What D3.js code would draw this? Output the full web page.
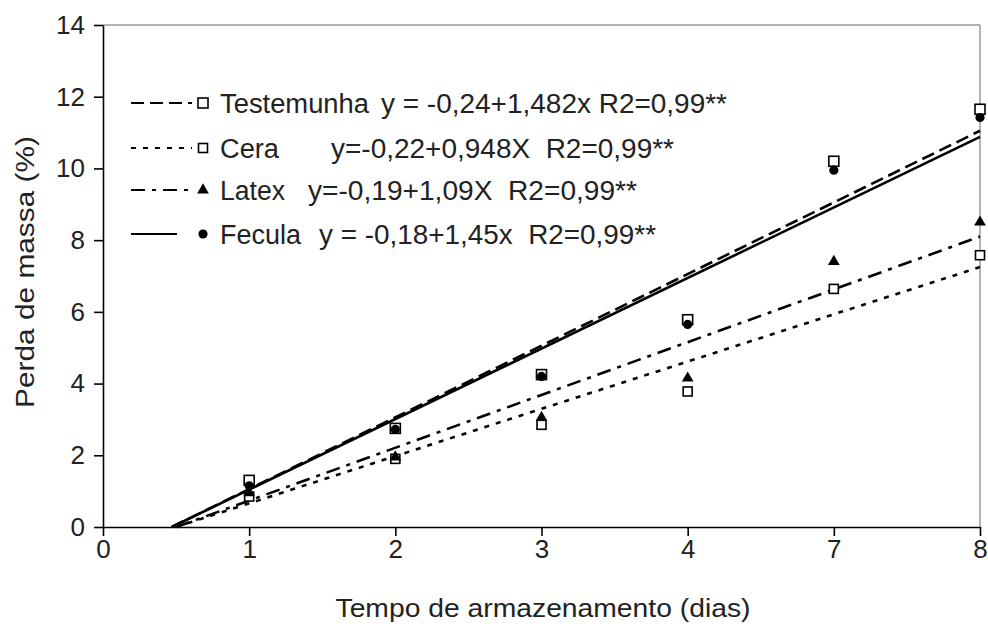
<!DOCTYPE html>
<html><head><meta charset="utf-8">
<script src="https://cdn.jsdelivr.net/npm/d3@7"></script>
<style>body{margin:0;background:#fff;} text{font-family:"Liberation Sans",Arial,sans-serif;fill:#222;}</style>
</head><body>
<svg id="c" width="988" height="628"></svg>
<script>
const xLabels = ["0","1","2","3","4","7","8"];
const yTicks = [0,2,4,6,8,10,12,14];
const series = ["Testemunha","Cera","Latex","Fecula"];
const equations = ["y = -0,24+1,482x R2=0,99**","y=-0,22+0,948X  R2=0,99**","y=-0,19+1,09X  R2=0,99**","y = -0,18+1,45x  R2=0,99**"];
// observed values at x indices 1..6
const testemunha = [1.3, 2.75, 4.25, 5.78, 10.2, 11.65];
const cera       = [0.85, 1.9, 2.85, 3.78, 6.64, 7.58];
const latex      = [0.95, 1.95, 3.05, 4.15, 7.4, 8.5];
const fecula     = [1.15, 2.72, 4.2, 5.65, 9.95, 11.42];
// fitted lines: [start index, start value], [end index, end value]
const lineTestemunha = [[0.47,0],[6,11.05]];
const lineCera       = [[0.5,0],[6,7.25]];
const lineLatex      = [[0.5,0],[6,8.1]];
const lineFecula     = [[0.47,0],[6,10.88]];

const svg = d3.select("#c");
const x = d3.scaleLinear().domain([0,6]).range([103,980]);
const y = d3.scaleLinear().domain([0,14]).range([527,25]);

svg.append("line").attr("x1",103).attr("x2",980).attr("y1",y(14)).attr("y2",y(14)).attr("stroke","#9a9a9a").attr("stroke-width",1.5);
svg.append("line").attr("x1",980).attr("x2",980).attr("y1",y(14)).attr("y2",y(0)).attr("stroke","#9a9a9a").attr("stroke-width",1.5);

const xAxis = d3.axisBottom(x).tickValues(d3.range(xLabels.length)).tickFormat(i=>xLabels[i]).tickSize(9).tickSizeOuter(0).tickPadding(4);
const gx = svg.append("g").attr("transform",`translate(0,${y(0)})`).call(xAxis);
const yAxis = d3.axisLeft(y).tickValues(yTicks).tickSize(9).tickSizeOuter(0).tickPadding(9);
const gy = svg.append("g").attr("transform",`translate(${x(0)},0)`).call(yAxis);
[gx,gy].forEach(g=>{
  g.select(".domain").attr("stroke","#000").attr("stroke-width",1.6);
  g.selectAll(".tick line").attr("stroke","#000").attr("stroke-width",1.6);
  g.selectAll(".tick text").attr("font-size",26).attr("font-family","'Liberation Sans',Arial,sans-serif").attr("fill","#222");
});

svg.append("text").attr("x",543).attr("y",617).attr("text-anchor","middle").attr("font-size",26)
  .attr("textLength",415).attr("lengthAdjust","spacingAndGlyphs").text("Tempo de armazenamento (dias)");
svg.append("text").attr("transform","translate(34,272) rotate(-90)").attr("text-anchor","middle").attr("font-size",26)
  .attr("textLength",272).attr("lengthAdjust","spacingAndGlyphs").text("Perda de massa (%)");

const dashes = {"Testemunha":"13,6","Cera":"5,7","Latex":"14,7,4,7","Fecula":null};
const fits = {"Testemunha":lineTestemunha,"Cera":lineCera,"Latex":lineLatex,"Fecula":lineFecula};
const vals = {"Testemunha":testemunha,"Cera":cera,"Latex":latex,"Fecula":fecula};

const line = d3.line().x(d=>x(d[0])).y(d=>y(d[1]));
series.forEach(s=>{
  svg.append("path").attr("d",line(fits[s])).attr("fill","none").attr("stroke","#000")
    .attr("stroke-width",2.6).attr("stroke-dasharray",dashes[s]);
});

function marker(g,s,cx,cy){
  if(s==="Testemunha") g.append("rect").attr("x",cx-5).attr("y",cy-5).attr("width",10).attr("height",10).attr("fill","#fff").attr("stroke","#000").attr("stroke-width",1.6);
  else if(s==="Cera") g.append("rect").attr("x",cx-4.5).attr("y",cy-4.5).attr("width",9).attr("height",9).attr("fill","#fff").attr("stroke","#000").attr("stroke-width",1.6);
  else if(s==="Latex") g.append("path").attr("d",d3.symbol(d3.symbolTriangle,60)()).attr("transform",`translate(${cx},${cy})`).attr("fill","#000");
  else g.append("circle").attr("cx",cx).attr("cy",cy).attr("r",4.6).attr("fill","#000");
}
const pts = svg.append("g");
["Cera","Latex","Testemunha","Fecula"].forEach(s=>{
  vals[s].forEach((v,i)=>marker(pts,s,x(i+1),y(v)));
});

const rowsY = [103,148,190,234];
const textLen = [149,59,65,81];
const eqX = [381,331,308,319];
const eqLen = [346,343,329,337];
series.forEach((s,i)=>{
  const ly = rowsY[i];
  const lx2 = s==="Fecula" ? 177 : 192;
  svg.append("line").attr("x1",131).attr("x2",lx2).attr("y1",ly).attr("y2",ly).attr("stroke","#000").attr("stroke-width",2.2).attr("stroke-dasharray",dashes[s]);
  marker(svg,s,203,ly);
  svg.append("text").attr("x",220).attr("y",ly+10).attr("font-size",27).attr("textLength",textLen[i]).attr("lengthAdjust","spacingAndGlyphs").text(s);
  svg.append("text").attr("x",eqX[i]).attr("y",ly+10).attr("font-size",27).attr("textLength",eqLen[i]).attr("lengthAdjust","spacingAndGlyphs").style("white-space","pre").text(equations[i]);
});
</script>
</body></html>
